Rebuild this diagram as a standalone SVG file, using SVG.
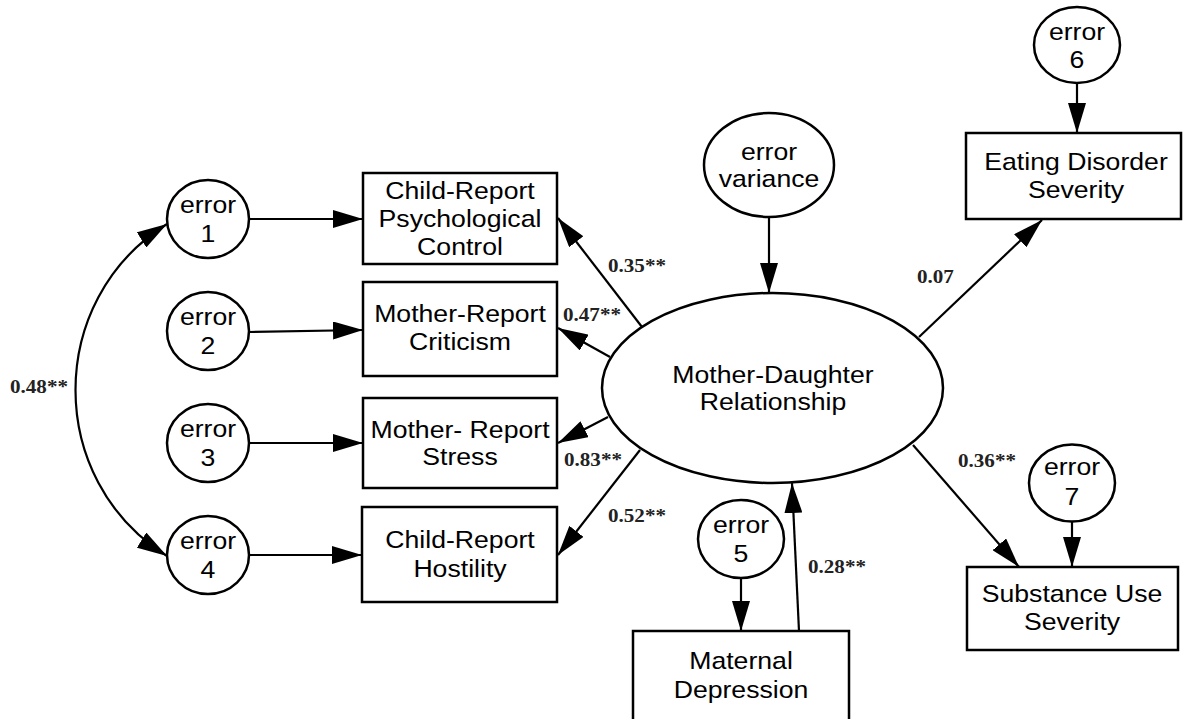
<svg xmlns="http://www.w3.org/2000/svg" width="1183" height="719" viewBox="0 0 1183 719">
<style>
.shape{fill:#fff;stroke:#000;stroke-width:2.5}
.t{font-family:"Liberation Sans",Arial,sans-serif;font-size:24px;text-anchor:middle;fill:#000}
.lbl{font-family:"Liberation Serif","Times New Roman",serif;font-size:19px;font-weight:bold;fill:#222}
.c{fill:none;stroke:#000;stroke-width:2.2}
</style>
<defs>
<marker id="ah" viewBox="0 0 30 18" refX="30" refY="9" markerWidth="30" markerHeight="18" markerUnits="userSpaceOnUse" orient="auto-start-reverse">
<path d="M0,0 L30,9 L0,18 z" fill="#000"/>
</marker>
</defs>
<rect width="1183" height="719" fill="#fff"/>

<g id="connectors">
<line class="c" x1="250" y1="219" x2="363" y2="219" marker-end="url(#ah)"/>
<line class="c" x1="250" y1="332" x2="363" y2="330" marker-end="url(#ah)"/>
<line class="c" x1="250" y1="443" x2="363" y2="443" marker-end="url(#ah)"/>
<line class="c" x1="250" y1="555" x2="362" y2="555" marker-end="url(#ah)"/>
<path class="c" d="M167,224 C45,300 45,480 167,556" marker-start="url(#ah)" marker-end="url(#ah)"/>
<line class="c" x1="642" y1="327" x2="558" y2="218" marker-end="url(#ah)"/>
<line class="c" x1="610" y1="357" x2="558" y2="328" marker-end="url(#ah)"/>
<line class="c" x1="608" y1="417" x2="558" y2="443" marker-end="url(#ah)"/>
<line class="c" x1="640" y1="450" x2="558" y2="555" marker-end="url(#ah)"/>
<line class="c" x1="769" y1="217" x2="769" y2="293" marker-end="url(#ah)"/>
<line class="c" x1="919" y1="337" x2="1042" y2="220" marker-end="url(#ah)"/>
<line class="c" x1="1077" y1="83" x2="1077" y2="133" marker-end="url(#ah)"/>
<line class="c" x1="913" y1="445" x2="1019" y2="567" marker-end="url(#ah)"/>
<line class="c" x1="1072" y1="522" x2="1072" y2="567" marker-end="url(#ah)"/>
<line class="c" x1="741" y1="578" x2="741" y2="631" marker-end="url(#ah)"/>
<line class="c" x1="799" y1="631" x2="792" y2="483" marker-end="url(#ah)"/>
</g>

<g id="labels">
<text class="lbl" transform="translate(608 272) scale(1.11 1)">0.35**</text>
<text class="lbl" transform="translate(563 321) scale(1.11 1)">0.47**</text>
<text class="lbl" transform="translate(564 466) scale(1.11 1)">0.83**</text>
<text class="lbl" transform="translate(608 522) scale(1.11 1)">0.52**</text>
<text class="lbl" transform="translate(917 283) scale(1.11 1)">0.07</text>
<text class="lbl" transform="translate(958 467) scale(1.11 1)">0.36**</text>
<text class="lbl" transform="translate(808 573) scale(1.11 1)">0.28**</text>
<text class="lbl" transform="translate(10 393) scale(1.11 1)">0.48**</text>
</g>

<g id="error1">
<ellipse class="shape" cx="208" cy="219" rx="41" ry="39"/>
<text class="t" transform="translate(208 0) scale(1.11 1)"><tspan x="0" y="213">error</tspan><tspan x="0" y="242">1</tspan></text>
</g>
<g id="error2">
<ellipse class="shape" cx="208" cy="331" rx="41" ry="39"/>
<text class="t" transform="translate(208 0) scale(1.11 1)"><tspan x="0" y="325">error</tspan><tspan x="0" y="354">2</tspan></text>
</g>
<g id="error3">
<ellipse class="shape" cx="208" cy="443" rx="41" ry="39"/>
<text class="t" transform="translate(208 0) scale(1.11 1)"><tspan x="0" y="437">error</tspan><tspan x="0" y="466">3</tspan></text>
</g>
<g id="error4">
<ellipse class="shape" cx="208" cy="555" rx="41" ry="39"/>
<text class="t" transform="translate(208 0) scale(1.11 1)"><tspan x="0" y="549">error</tspan><tspan x="0" y="578">4</tspan></text>
</g>

<g id="box-child-psych">
<rect class="shape" x="363" y="173" width="194" height="91"/>
<text class="t" transform="translate(460 0) scale(1.11 1)"><tspan x="0" y="199">Child-Report</tspan><tspan x="0" y="227">Psychological</tspan><tspan x="0" y="255">Control</tspan></text>
</g>
<g id="box-mother-criticism">
<rect class="shape" x="363" y="282" width="194" height="94"/>
<text class="t" transform="translate(460 0) scale(1.11 1)"><tspan x="0" y="322">Mother-Report</tspan><tspan x="0" y="350">Criticism</tspan></text>
</g>
<g id="box-mother-stress">
<rect class="shape" x="363" y="398" width="194" height="90"/>
<text class="t" transform="translate(460 0) scale(1.11 1)"><tspan x="0" y="438">Mother- Report</tspan><tspan x="0" y="465">Stress</tspan></text>
</g>
<g id="box-child-hostility">
<rect class="shape" x="362" y="507" width="195" height="95"/>
<text class="t" transform="translate(460 0) scale(1.11 1)"><tspan x="0" y="548">Child-Report</tspan><tspan x="0" y="577">Hostility</tspan></text>
</g>

<g id="error-variance">
<ellipse class="shape" cx="769" cy="165" rx="65" ry="52"/>
<text class="t" transform="translate(769 0) scale(1.11 1)"><tspan x="0" y="160">error</tspan><tspan x="0" y="187">variance</tspan></text>
</g>

<g id="mother-daughter">
<ellipse class="shape" cx="772.5" cy="388" rx="170.5" ry="95"/>
<text class="t" transform="translate(773 0) scale(1.11 1)"><tspan x="0" y="383">Mother-Daughter</tspan><tspan x="0" y="410">Relationship</tspan></text>
</g>

<g id="error6">
<ellipse class="shape" cx="1077" cy="45" rx="43" ry="38"/>
<text class="t" transform="translate(1077 0) scale(1.11 1)"><tspan x="0" y="40">error</tspan><tspan x="0" y="68">6</tspan></text>
</g>
<g id="box-eating">
<rect class="shape" x="966" y="133" width="215" height="86"/>
<text class="t" transform="translate(1076 0) scale(1.11 1)"><tspan x="0" y="170">Eating Disorder</tspan><tspan x="0" y="198">Severity</tspan></text>
</g>

<g id="error7">
<ellipse class="shape" cx="1072" cy="483" rx="43" ry="38.5"/>
<text class="t" transform="translate(1072 0) scale(1.11 1)"><tspan x="0" y="475">error</tspan><tspan x="0" y="505">7</tspan></text>
</g>
<g id="box-substance">
<rect class="shape" x="967" y="567" width="211" height="83"/>
<text class="t" transform="translate(1072 0) scale(1.11 1)"><tspan x="0" y="602">Substance Use</tspan><tspan x="0" y="630">Severity</tspan></text>
</g>

<g id="error5">
<ellipse class="shape" cx="741" cy="539" rx="43" ry="39"/>
<text class="t" transform="translate(741 0) scale(1.11 1)"><tspan x="0" y="533">error</tspan><tspan x="0" y="562">5</tspan></text>
</g>
<g id="box-maternal">
<rect class="shape" x="633" y="631" width="216" height="110"/>
<text class="t" transform="translate(741 0) scale(1.11 1)"><tspan x="0" y="669">Maternal</tspan><tspan x="0" y="698">Depression</tspan></text>
</g>
</svg>
